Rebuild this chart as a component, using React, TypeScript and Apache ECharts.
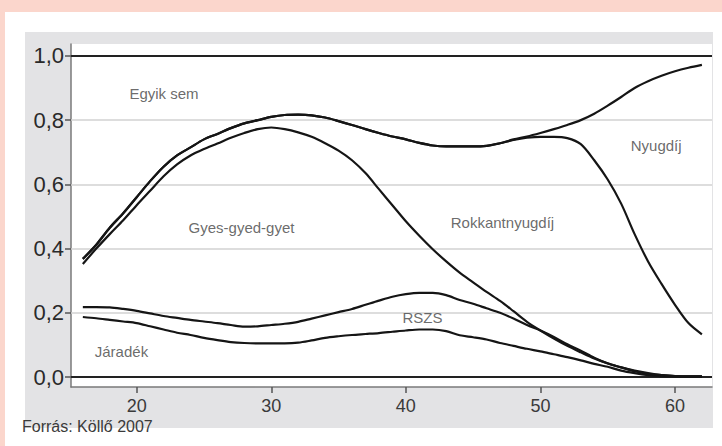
import React, { useEffect, useRef } from "react";
import * as echarts from "echarts";

const ages = [16,17,18,19,20,21,22,23,24,25,26,27,28,29,30,31,32,33,34,35,36,37,38,39,40,41,42,43,44,45,46,47,48,49,50,51,52,53,54,55,56,57,58,59,60,61,62];

const jaradek = [0.187,0.183,0.178,0.173,0.168,0.158,0.148,0.138,0.131,0.122,0.115,0.109,0.106,0.105,0.105,0.105,0.107,0.114,0.122,0.127,0.131,0.134,0.137,0.141,0.145,0.148,0.148,0.143,0.130,0.124,0.117,0.106,0.097,0.088,0.080,0.071,0.062,0.052,0.041,0.032,0.020,0.012,0.006,0.003,0.002,0.001,0.001];

const rszs = [0.218,0.218,0.217,0.212,0.206,0.198,0.190,0.184,0.178,0.173,0.168,0.162,0.157,0.158,0.162,0.166,0.172,0.182,0.192,0.202,0.212,0.225,0.238,0.250,0.258,0.262,0.262,0.255,0.240,0.228,0.214,0.200,0.182,0.162,0.145,0.125,0.102,0.082,0.060,0.042,0.030,0.018,0.010,0.006,0.003,0.002,0.002];

const gyes = [0.352,0.400,0.445,0.488,0.535,0.580,0.625,0.662,0.690,0.710,0.727,0.745,0.760,0.772,0.777,0.772,0.762,0.748,0.728,0.705,0.675,0.635,0.585,0.535,0.485,0.440,0.398,0.360,0.325,0.295,0.265,0.237,0.205,0.172,0.145,0.120,0.097,0.077,0.058,0.043,0.030,0.020,0.012,0.006,0.003,0.002,0.002];

const rokkant = [0.368,0.412,0.465,0.510,0.560,0.610,0.655,0.690,0.715,0.740,0.757,0.775,0.790,0.800,0.810,0.816,0.817,0.815,0.808,0.797,0.785,0.772,0.760,0.749,0.740,0.729,0.721,0.718,0.718,0.718,0.720,0.728,0.738,0.745,0.748,0.748,0.744,0.725,0.675,0.615,0.540,0.445,0.360,0.290,0.225,0.168,0.133];

const nyugdij = [0.368,0.412,0.465,0.510,0.560,0.610,0.655,0.690,0.715,0.740,0.757,0.775,0.790,0.800,0.810,0.816,0.817,0.815,0.808,0.797,0.785,0.772,0.760,0.749,0.740,0.729,0.721,0.718,0.718,0.718,0.720,0.728,0.740,0.749,0.760,0.772,0.785,0.800,0.820,0.845,0.872,0.900,0.921,0.938,0.952,0.963,0.972];

const xTicks = [20, 30, 40, 50, 60];
const yTicks = [0, 0.2, 0.4, 0.6, 0.8, 1.0];
const gridValues = [0.2, 0.4, 0.6, 0.8];
const boundaryValues = [0, 1];

const labelNames = ["Egyik sem", "Gyes-gyed-gyet", "Rokkantnyugdíj", "Nyugdíj", "RSZS", "Járadék"];
const labelX = [22.03, 27.79, 47.18, 58.6, 41.23, 18.87];
const labelY = [0.883, 0.465, 0.48, 0.72, 0.184, 0.081];

const sourceText = "Forrás: Köllő 2007";

const pair = (ys: number[]) => ages.map((a, i) => [a, ys[i]]);

export default function App() {
  const ref = useRef<HTMLDivElement>(null);
  useEffect(() => {
    if (!ref.current) return;
    const chart = echarts.init(ref.current, undefined, { renderer: "svg" });
    const lineStyle = { color: "#151515", width: 2.2 };
    const mkLine = (name: string, ys: number[]) => ({
      name,
      type: "line",
      data: pair(ys),
      showSymbol: false,
      symbol: "none",
      smooth: 0.3,
      lineStyle,
      z: 5,
    });
    chart.setOption({
      animation: false,
      textStyle: { fontFamily: "Liberation Sans, Arial, sans-serif" },
      grid: {
        left: 71,
        top: 44,
        width: 641,
        height: 343,
        show: true,
        backgroundColor: "#ffffff",
        borderWidth: 0,
      },
      xAxis: {
        type: "value",
        min: 15.12,
        max: 62.75,
        splitLine: { show: false },
        axisLine: { show: true, onZero: false, lineStyle: { color: "#7a7a7a", width: 1.5 } },
        axisTick: { show: true, length: 6, customValues: xTicks, lineStyle: { color: "#555", width: 1.5 } },
        axisLabel: {
          customValues: xTicks,
          fontSize: 18,
          color: "#3a3a3a",
          margin: 10,
          fontFamily: "Liberation Sans, Arial, sans-serif",
        },
      },
      yAxis: {
        type: "value",
        min: -0.031,
        max: 1.037,
        splitLine: { show: false },
        axisLine: { show: true, onZero: false, lineStyle: { color: "#7a7a7a", width: 1.5 } },
        axisTick: { show: true, length: 6, customValues: yTicks, lineStyle: { color: "#555", width: 1.5 } },
        axisLabel: {
          customValues: yTicks,
          fontSize: 22,
          color: "#2a2a2a",
          margin: 7,
          fontFamily: "Liberation Sans, Arial, sans-serif",
          formatter: (v: number) => v.toFixed(1).replace(".", ","),
        },
      },
      graphic: [
        {
          type: "text",
          left: 22,
          top: 418,
          style: {
            text: sourceText,
            fontSize: 16,
            fill: "#3a3a3a",
            fontFamily: "Liberation Sans, Arial, sans-serif",
          },
        },
      ],
      series: [
        {
          name: "grid",
          type: "line",
          data: [],
          markLine: {
            silent: true,
            symbol: "none",
            label: { show: false },
            lineStyle: { color: "#d2d2d2", width: 1.5, type: "solid" },
            data: gridValues.map((v) => ({ yAxis: v })),
          },
          z: 1,
        },
        {
          name: "bounds",
          type: "line",
          data: [],
          markLine: {
            silent: true,
            symbol: "none",
            label: { show: false },
            lineStyle: { color: "#222", width: 2, type: "solid" },
            data: boundaryValues.map((v) => ({ yAxis: v })),
          },
          z: 2,
        },
        mkLine("Járadék", jaradek),
        mkLine("RSZS", rszs),
        mkLine("Gyes-gyed-gyet", gyes),
        mkLine("Rokkantnyugdíj", rokkant),
        mkLine("Nyugdíj", nyugdij),
        {
          name: "labels",
          type: "scatter",
          symbolSize: 0,
          data: labelNames.map((n, i) => ({ name: n, value: [labelX[i], labelY[i]] })),
          label: {
            show: true,
            position: "inside",
            formatter: (p: any) => p.name,
            fontSize: 15,
            color: "#454545",
            fontFamily: "Liberation Sans, Arial, sans-serif",
          },
          z: 6,
        },
      ],
    });
    return () => chart.dispose();
  }, []);
  return (
    <div style={{ position: "fixed", left: 0, top: 0, width: 722, height: 446, background: "#fbd6cc", overflow: "hidden" }}>
      <div style={{ position: "absolute", left: 5, top: 12, right: 0, bottom: 0, background: "#ffffff" }} />
      <div style={{ position: "absolute", left: 25, top: 32, width: 688, height: 396, background: "#e3e3e5" }} />
      <div ref={ref} style={{ position: "absolute", left: 0, top: 0, width: 722, height: 446 }} />
    </div>
  );
}
